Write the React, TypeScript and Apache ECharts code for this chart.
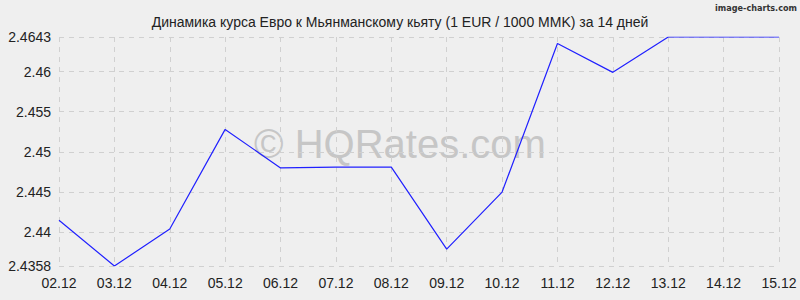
import React, { useEffect, useRef } from "react";
import * as echarts from "echarts";

const categories = ["02.12", "03.12", "04.12", "05.12", "06.12", "07.12", "08.12", "09.12", "10.12", "11.12", "12.12", "13.12", "14.12", "15.12"];
const rates = [2.4415, 2.4358, 2.4404, 2.4528, 2.448, 2.4481, 2.4481, 2.4379, 2.445, 2.4635, 2.4599, 2.4643, 2.4643, 2.4643];
const yTicks = [2.4358, 2.44, 2.445, 2.45, 2.455, 2.46, 2.4643];
const yMin = 2.4358;
const yMax = 2.4643;

export default function App() {
  const ref = useRef<HTMLDivElement>(null);
  useEffect(() => {
    if (!ref.current) return;
    const chart = echarts.init(ref.current, null, { renderer: "svg" });
    const gridLine = { show: true, lineStyle: { color: "#d0d0d0", type: [5, 5] as any, width: 1 } };
    chart.setOption({
      animation: false,
      backgroundColor: "#efefef",
      title: {
        text: "Динамика курса Евро к Мьянманскому кьяту (1 EUR / 1000 MMK) за 14 дней",
        left: "center",
        top: 10,
        textStyle: { fontFamily: "Liberation Sans", fontSize: 14, fontWeight: "normal", color: "#222" },
      },
      graphic: [
        {
          type: "text",
          right: 3,
          top: 3,
          style: { text: "image-charts.com", font: "bold 9px 'DejaVu Sans Condensed', 'Liberation Sans'", fill: "#333" },
        },
        {
          type: "text",
          left: "center",
          top: 124,
          z: 0,
          style: { text: "© HQRates.com", font: "40px 'Liberation Sans'", fill: "#c6c6c6" },
        },
      ],
      grid: { left: 59, right: 21, top: 37, bottom: 34, containLabel: false },
      xAxis: {
        type: "category",
        data: categories,
        boundaryGap: false,
        axisLine: { show: false },
        axisTick: { show: false },
        axisLabel: { color: "#222", fontSize: 14, fontFamily: "Liberation Sans", margin: 10, interval: 0 },
        splitLine: { ...gridLine, interval: 0 },
      },
      yAxis: {
        type: "value",
        min: yMin,
        max: yMax,
        axisLine: { show: false },
        axisTick: { show: false, customValues: yTicks },
        axisLabel: {
          color: "#222",
          fontSize: 14,
          fontFamily: "Liberation Sans",
          margin: 8,
          customValues: yTicks,
          formatter: (v: number) => String(v),
        },
        splitLine: gridLine,
      },
      series: [
        {
          type: "line",
          data: rates,
          symbol: "none",
          lineStyle: { color: "#2020ff", width: 1.2 },
          z: 3,
        },
      ],
    });
    return () => chart.dispose();
  }, []);
  return <div ref={ref} style={{ width: 800, height: 300, position: "absolute", left: 0, top: 0 }} />;
}
